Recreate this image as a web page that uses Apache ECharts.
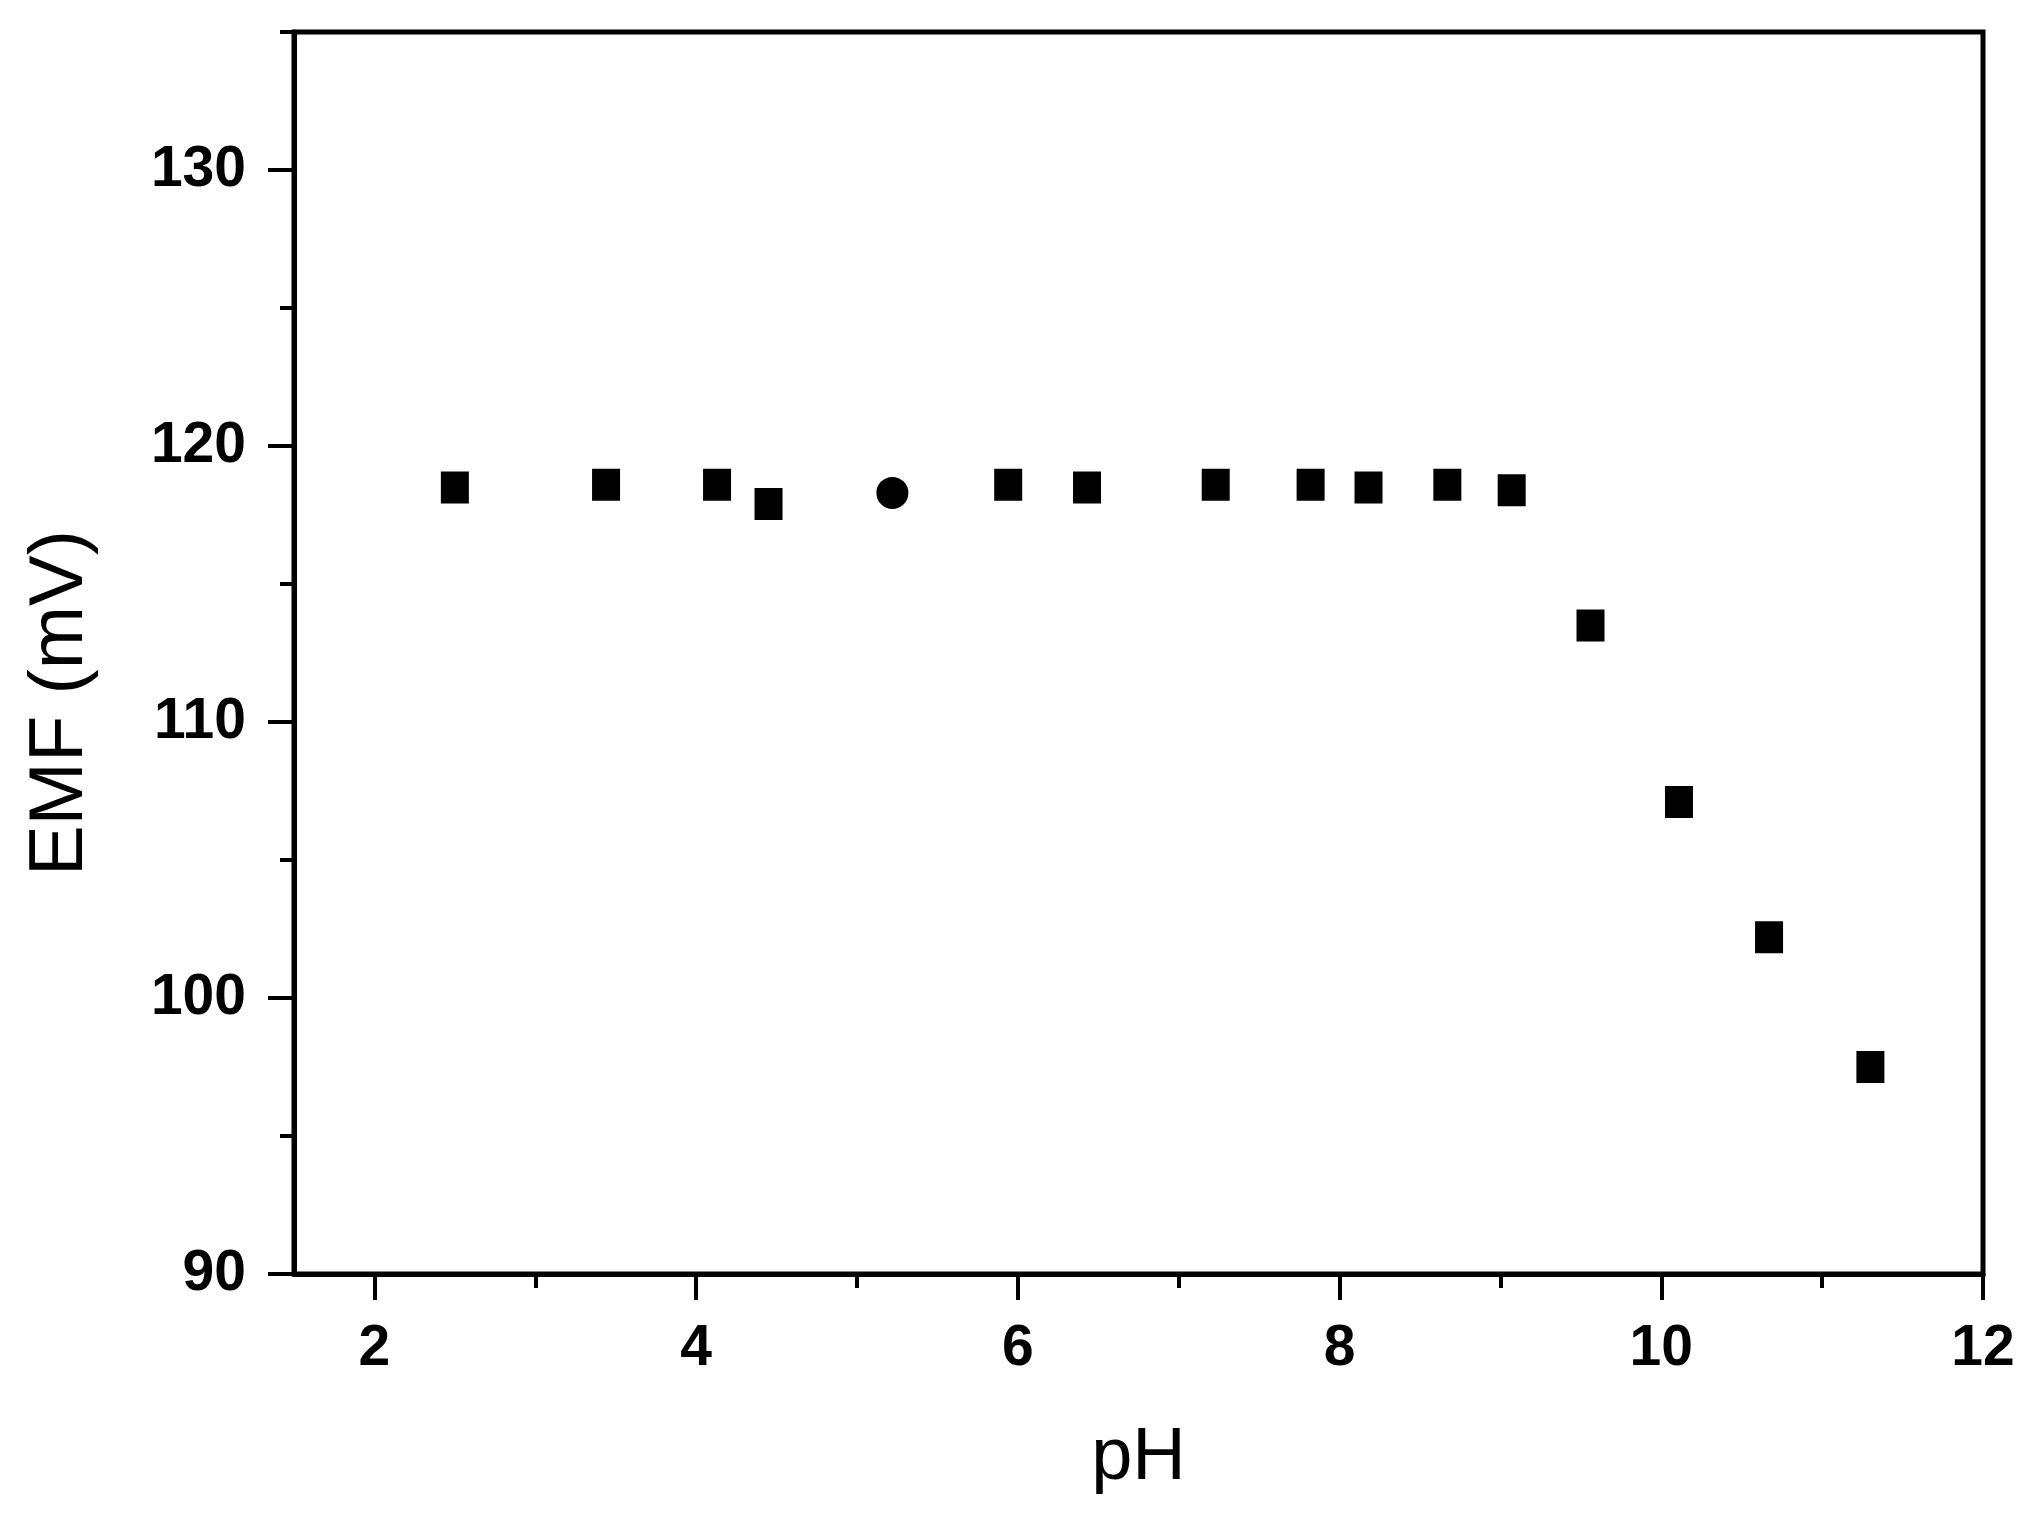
<!DOCTYPE html>
<html>
<head>
<meta charset="utf-8">
<title>EMF vs pH</title>
<script src="https://cdn.jsdelivr.net/npm/echarts@6/dist/echarts.min.js"></script>
<style>
  html, body { margin: 0; padding: 0; background: #fff; }
  #main { width: 2032px; height: 1522px; }
</style>
</head>
<body>
<div id="main"></div>
<script>
// data
var phValues = [2.50, 3.44, 4.13, 4.45, 5.22, 5.94, 6.43, 7.23, 7.82, 8.18, 8.67, 9.07, 9.56, 10.11, 10.67, 11.30];
var emfValues = [118.5, 118.6, 118.6, 117.9, 118.3, 118.6, 118.5, 118.6, 118.6, 118.5, 118.6, 118.4, 113.5, 107.1, 102.2, 97.5];
var xMajorTicks = [2, 4, 6, 8, 10, 12];
var xMinorTicks = [3, 5, 7, 9, 11];
var yMajorTicks = [90, 100, 110, 120, 130];
var yMinorTicks = [95, 105, 115, 125, 135];

var points = phValues.map(function (x, i) { return [x, emfValues[i]]; });

var labelFont = {
  color: "#000",
  fontFamily: "Liberation Sans",
  fontWeight: "bold",
  fontSize: 57
};

var chart = echarts.init(document.getElementById("main"));
chart.setOption({
  backgroundColor: "#fff",
  animation: false,
  grid: {
    left: 294,
    right: 49,
    top: 32,
    bottom: 248,
    show: true,
    borderColor: "#000",
    borderWidth: 5,
    backgroundColor: "transparent"
  },
  xAxis: [
    {
      type: "value",
      min: 1.5,
      max: 12,
      name: "pH",
      nameLocation: "middle",
      nameGap: 148,
      nameTextStyle: { color: "#000", fontFamily: "Liberation Sans", fontSize: 74 },
      axisLine: { show: true, lineStyle: { color: "#000", width: 5 } },
      axisTick: {
        show: true,
        inside: false,
        length: 26,
        customValues: xMajorTicks,
        lineStyle: { color: "#000", width: 4 }
      },
      axisLabel: Object.assign({ margin: 47, customValues: xMajorTicks }, labelFont),
      splitLine: { show: false }
    },
    {
      // minor ticks
      type: "value",
      min: 1.5,
      max: 12,
      position: "bottom",
      axisLine: { show: false },
      axisTick: {
        show: true,
        length: 14,
        customValues: xMinorTicks,
        lineStyle: { color: "#000", width: 4 }
      },
      axisLabel: { show: false },
      splitLine: { show: false }
    }
  ],
  yAxis: [
    {
      type: "value",
      min: 90,
      max: 135,
      name: "EMF (mV)",
      nameLocation: "middle",
      nameGap: 195,
      nameRotate: 90,
      nameTextStyle: {
        color: "#000",
        fontFamily: "Liberation Sans",
        fontSize: 76,
        padding: [0, 100, 0, 0]
      },
      axisLine: { show: true, lineStyle: { color: "#000", width: 5 } },
      axisTick: {
        show: true,
        inside: false,
        length: 26,
        customValues: yMajorTicks,
        lineStyle: { color: "#000", width: 4 }
      },
      axisLabel: Object.assign({ margin: 48, customValues: yMajorTicks }, labelFont),
      splitLine: { show: false }
    },
    {
      // minor ticks
      type: "value",
      min: 90,
      max: 135,
      position: "left",
      axisLine: { show: false },
      axisTick: {
        show: true,
        length: 14,
        customValues: yMinorTicks,
        lineStyle: { color: "#000", width: 4 }
      },
      axisLabel: { show: false },
      splitLine: { show: false }
    }
  ],
  series: [
    {
      type: "scatter",
      data: points,
      symbol: function (val, params) {
        return params.dataIndex === 4 ? "circle" : "rect";
      },
      symbolSize: function (val, params) {
        return params.dataIndex === 4 ? [32, 32] : [28, 32];
      },
      itemStyle: { color: "#000", opacity: 1 }
    }
  ]
});
</script>
</body>
</html>
